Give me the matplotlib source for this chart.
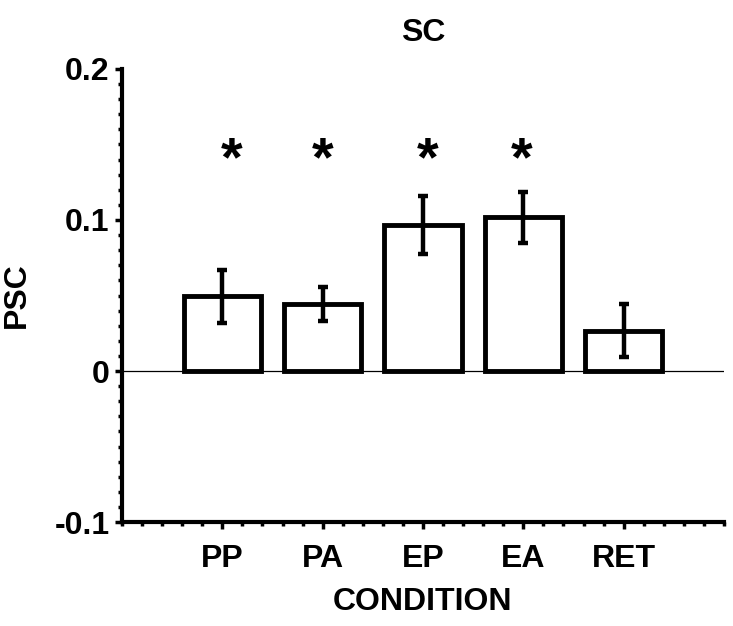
import matplotlib.pyplot as plt
from matplotlib.ticker import MultipleLocator

plt.rcParams['font.family'] = ['Liberation Sans', 'DejaVu Sans']
plt.rcParams['font.weight'] = 'bold'

conditions = ['PP', 'PA', 'EP', 'EA', 'RET']
psc = [0.0495, 0.0444, 0.0968, 0.1018, 0.0267]
sem = [0.0175, 0.0115, 0.019, 0.0168, 0.0176]
# asterisks for the significant conditions
star_x = [0.09, 1.0, 2.05, 2.98]
star_y = 0.146

fig = plt.figure(figsize=(7.33, 6.26), dpi=100)
ax = fig.add_axes([0.1664, 0.1661, 0.8213, 0.7237])

x = list(range(len(conditions)))
ax.bar(x, psc, width=0.77, color='white', edgecolor='black', linewidth=3.5, zorder=3)
ax.errorbar(x, psc, yerr=sem, fmt='none', ecolor='black', elinewidth=3.2,
            capsize=3.5, capthick=3.2, zorder=4)
ax.axhline(0, color='black', linewidth=0.9, zorder=2)

for sx in star_x:
    ax.text(sx, star_y - 0.007, '*', ha='center', va='center', fontsize=40, fontweight='bold')

ax.set_xlim(-1, 5)
ax.set_ylim(-0.1, 0.2)
ax.set_xticks(x)
ax.set_xticklabels(conditions)
ax.xaxis.set_minor_locator(MultipleLocator(0.2))
ax.set_yticks([-0.1, 0, 0.1, 0.2])
ax.set_yticklabels(['-0.1', '0', '0.1', '0.2'])
ax.yaxis.set_minor_locator(MultipleLocator(0.01))

ax.spines['top'].set_visible(False)
ax.spines['right'].set_visible(False)
ax.spines['left'].set_linewidth(3)
ax.spines['bottom'].set_linewidth(3)
ax.tick_params(which='major', direction='out', length=5, width=2.5, labelsize=23)
ax.tick_params(axis='y', which='major', pad=4)
ax.tick_params(axis='x', which='major', pad=11)
ax.tick_params(which='minor', direction='out', length=3, width=2.5)

ax.set_title('SC', fontsize=23, fontweight='bold', pad=20)
ax.set_ylabel('PSC', fontsize=23, fontweight='bold', labelpad=16)
ax.set_xlabel('CONDITION', fontsize=23, fontweight='bold', labelpad=9)

fig.savefig('out.png', dpi=100)
